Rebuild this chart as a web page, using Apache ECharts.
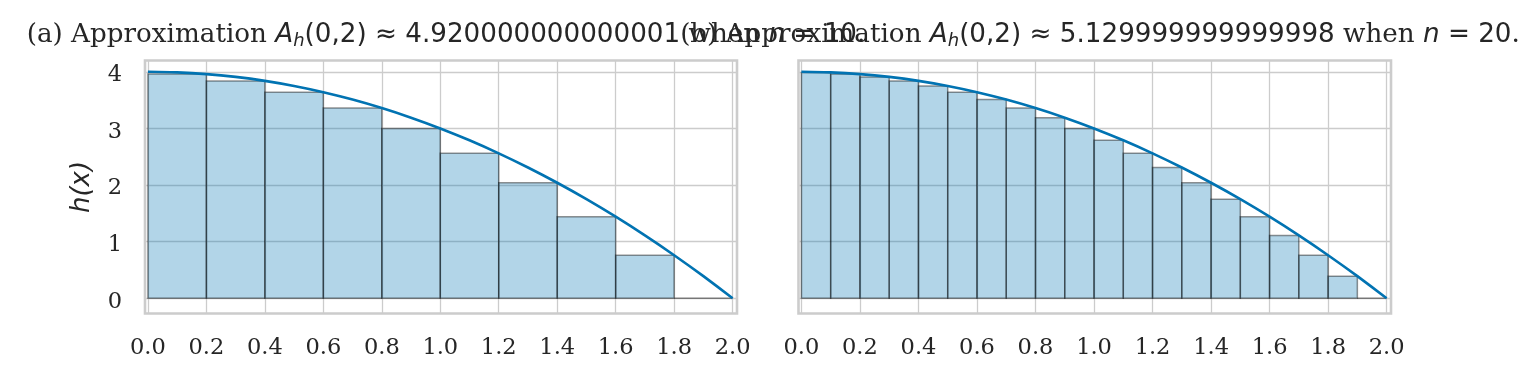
<!DOCTYPE html>
<html>
<head>
<meta charset="utf-8">
<script src="https://cdn.jsdelivr.net/npm/echarts@6/dist/echarts.min.js"></script>
<style>
html,body{margin:0;padding:0;background:#fff;}
#chart{width:1534px;height:379px;}
</style>
</head>
<body>
<div id="chart"></div>
<script>
// ---- data ----
const xTicks = [0.0, 0.2, 0.4, 0.6, 0.8, 1.0, 1.2, 1.4, 1.6, 1.8, 2.0];
const yTicks = [0, 1, 2, 3, 4];

// panel (a): n = 10, rectangles [start, end] with height at right endpoint
const barStartA = [0.0, 0.2, 0.4, 0.6, 0.8, 1.0, 1.2, 1.4, 1.6, 1.8];
const barEndA   = [0.2, 0.4, 0.6, 0.8, 1.0, 1.2, 1.4, 1.6, 1.8, 2.0];
const barHeightA = [3.96, 3.84, 3.64, 3.36, 3.00, 2.56, 2.04, 1.44, 0.76, 0.00];

// panel (b): n = 20
const barStartB = [0.0, 0.1, 0.2, 0.3, 0.4, 0.5, 0.6, 0.7, 0.8, 0.9, 1.0, 1.1, 1.2, 1.3, 1.4, 1.5, 1.6, 1.7, 1.8, 1.9];
const barEndB   = [0.1, 0.2, 0.3, 0.4, 0.5, 0.6, 0.7, 0.8, 0.9, 1.0, 1.1, 1.2, 1.3, 1.4, 1.5, 1.6, 1.7, 1.8, 1.9, 2.0];
const barHeightB = [3.99, 3.96, 3.91, 3.84, 3.75, 3.64, 3.51, 3.36, 3.19, 3.00, 2.79, 2.56, 2.31, 2.04, 1.75, 1.44, 1.11, 0.76, 0.39, 0.00];

// curve h(x)
const curveX = [0.0, 0.1, 0.2, 0.3, 0.4, 0.5, 0.6, 0.7, 0.8, 0.9, 1.0, 1.1, 1.2, 1.3, 1.4, 1.5, 1.6, 1.7, 1.8, 1.9, 2.0];
const curveY = [4.00, 3.99, 3.96, 3.91, 3.84, 3.75, 3.64, 3.51, 3.36, 3.19, 3.00, 2.79, 2.56, 2.31, 2.04, 1.75, 1.44, 1.11, 0.76, 0.39, 0.00];

const titleA = ['(a) Approximation ', '(0,2) \u2248 4.920000000000001', ' when ', ' = 10', '.'];
const titleB = ['(b) Approximation ', '(0,2) \u2248 5.129999999999998', ' when ', ' = 20', '.'];
const yName = 'h(x)';

// ---- chart ----
const chart = echarts.init(document.getElementById('chart'), null, {renderer: 'canvas'});

const SERIF = '"DejaVu Serif", serif';
const SANS = '"DejaVu Sans", sans-serif';
const TXT = '#262626';
const BLUE = '#0173b2';

function titleText(parts) {
  return '{s|' + parts[0] + '}{mi|A}{sub|h}{m|' + parts[1] + '}{s|' + parts[2] + '}{mi|n}{m|' + parts[3] + '}{s|' + parts[4] + '}';
}
const TF = 26.2;
const rich = {
  s: {fontFamily: SERIF, fontSize: TF, fontWeight: 'normal', color: TXT},
  m: {fontFamily: SANS, fontSize: TF, fontWeight: 'normal', color: TXT},
  mi: {fontFamily: SANS, fontSize: TF, fontStyle: 'italic', fontWeight: 'normal', color: TXT},
  sub: {fontFamily: SANS, fontSize: 18, fontStyle: 'italic', fontWeight: 'normal', color: TXT, padding: [12, 0, 0, 0]}
};

const grids = [
  {left: 145, top: 60.5, width: 592, height: 253},
  {left: 798.5, top: 60.5, width: 592.5, height: 253}
];

const TK = 22.5;
function xAxisCfg(i) {
  return {
    type: 'value', gridIndex: i, min: -0.01, max: 2.015,
    axisLine: {show: false},
    axisTick: {show: false, customValues: xTicks},
    axisLabel: {customValues: xTicks, formatter: v => v.toFixed(1), fontFamily: SERIF, fontSize: TK, color: TXT, margin: 23},
    splitLine: {show: true, lineStyle: {color: '#cccccc', width: 1.3}}
  };
}
function yAxisCfg(i) {
  return {
    type: 'value', gridIndex: i, min: -0.27, max: 4.2,
    name: i === 0 ? yName : '',
    nameLocation: 'middle', nameGap: 50, nameRotate: 90,
    nameTextStyle: {fontFamily: SANS, fontStyle: 'italic', fontSize: 26, color: TXT},
    axisLine: {show: false},
    axisTick: {show: false, customValues: yTicks},
    axisLabel: {
      show: i === 0, customValues: yTicks, margin: 23,
      formatter: v => '{t|' + v + '}',
      rich: {t: {fontFamily: SERIF, fontSize: TK, color: TXT, padding: [7, 0, 0, 0]}}
    },
    splitLine: {show: true, lineStyle: {color: '#cccccc', width: 1.3}}
  };
}

function rectSeries(idx, starts, ends, heights) {
  return {
    type: 'custom', xAxisIndex: idx, yAxisIndex: idx, z: 2,
    data: starts.map((s, i) => [s, ends[i], heights[i]]),
    renderItem: function (params, api) {
      const p0 = api.coord([api.value(0), 0]);
      const p1 = api.coord([api.value(1), api.value(2)]);
      return {
        type: 'rect',
        shape: {x: p0[0], y: p1[1], width: p1[0] - p0[0], height: p0[1] - p1[1]},
        style: {fill: 'rgba(1,115,178,0.3)', stroke: 'rgba(0,0,0,0.42)', lineWidth: 1.5}
      };
    }
  };
}
function curveSeries(idx) {
  return {
    type: 'line', xAxisIndex: idx, yAxisIndex: idx, z: 5,
    data: curveX.map((x, i) => [x, curveY[i]]),
    showSymbol: false, smooth: 0.2,
    lineStyle: {color: BLUE, width: 2.6},
    animation: false
  };
}

chart.setOption({
  animation: false,
  backgroundColor: '#ffffff',
  title: [
    {text: titleText(titleA), left: 441, top: 15, textAlign: 'center', textStyle: {fontWeight: 'normal', rich: rich}},
    {text: titleText(titleB), left: 1095, top: 15, textAlign: 'center', textStyle: {fontWeight: 'normal', rich: rich}}
  ],
  grid: grids.map(g => Object.assign({show: true, borderColor: '#cccccc', borderWidth: 2.6, backgroundColor: 'transparent', containLabel: false}, g)),
  xAxis: [xAxisCfg(0), xAxisCfg(1)],
  yAxis: [yAxisCfg(0), yAxisCfg(1)],
  series: [
    rectSeries(0, barStartA, barEndA, barHeightA),
    rectSeries(1, barStartB, barEndB, barHeightB),
    curveSeries(0),
    curveSeries(1)
  ]
});
</script>
</body>
</html>
